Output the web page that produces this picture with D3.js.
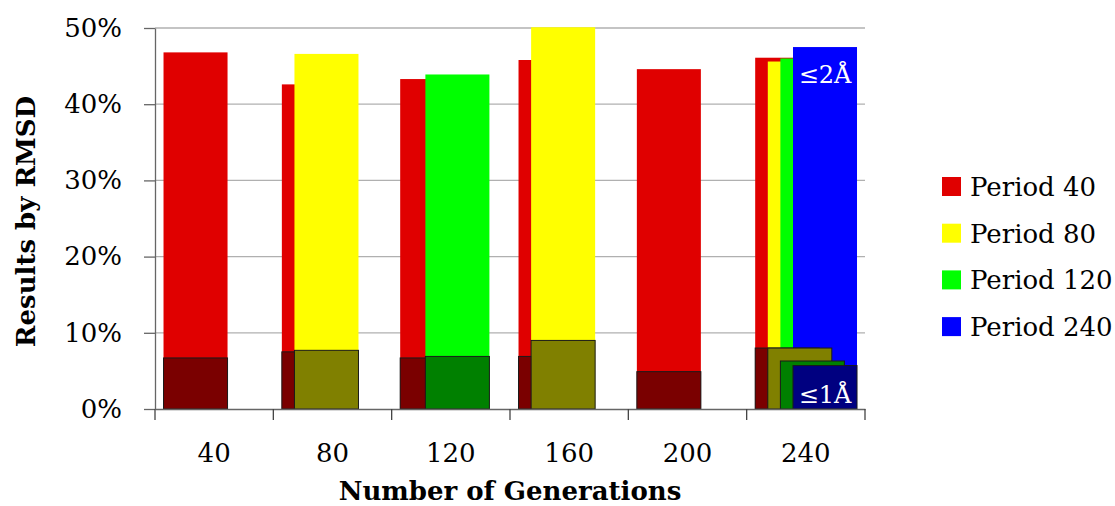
<!DOCTYPE html>
<html>
<head>
<meta charset="utf-8">
<script src="https://cdn.jsdelivr.net/npm/d3@7"></script>
<style>
  body { margin: 0; background: #fff; }
  svg { display: block; }
  text { font-family: "DejaVu Serif", serif; fill: #000; }
</style>
</head>
<body>
<svg id="chart" width="1115" height="506"></svg>
<script>
// Number of generations per run
const categories = ["40", "80", "120", "160", "200", "240"];
const seriesNames = ["Period 40", "Period 80", "Period 120", "Period 240"];

// Share of results with RMSD <= 2 Å (%); null where the period does not divide the generation count
const p40Within2  = [46.8, 42.6, 43.3, 45.8, 44.6, 46.1];
const p80Within2  = [null, 46.6, null, 50.1, null, 45.6];
const p120Within2 = [null, null, 43.9, null, null, 46.0];
const p240Within2 = [null, null, null, null, null, 47.5];

// Share of results with RMSD <= 1 Å (%)
const p40Within1  = [6.7, 7.5, 6.7, 6.9, 4.9, 8.0];
const p80Within1  = [null, 7.7, null, 9.0, null, 8.0];
const p120Within1 = [null, null, 6.9, null, null, 6.3];
const p240Within1 = [null, null, null, null, null, 5.7];

const yTickValues = [0, 10, 20, 30, 40, 50];

const brightColors = ["#e00000", "#ffff00", "#00ff00", "#0000ff"];
const darkColors   = ["#7a0000", "#808000", "#008000", "#000080"];

const within2 = [p40Within2, p80Within2, p120Within2, p240Within2];
const within1 = [p40Within1, p80Within1, p120Within1, p240Within1];

const svg = d3.select("#chart");

const plot = { left: 155, right: 865, top: 28, bottom: 409 };

const x = d3.scaleBand().domain(categories).range([plot.left, plot.right]).padding(0);
const y = d3.scaleLinear().domain([0, 50]).range([plot.bottom, plot.top]);
// horizontal position of each series inside a category band (fraction of the band)
const slot = d3.scaleLinear().domain([0, seriesNames.length - 1]).range([0.072, 0.3915]);
const barFrac = 0.541;

// gridlines
svg.append("g")
  .selectAll("line")
  .data(yTickValues.filter(d => d > 0))
  .join("line")
  .attr("x1", plot.left).attr("x2", plot.right)
  .attr("y1", d => y(d)).attr("y2", d => y(d))
  .attr("stroke", "#b0b0b0")
  .attr("stroke-width", 1.3);

// flatten into bar records
function records(layer) {
  const out = [];
  layer.forEach((vals, si) => {
    vals.forEach((v, ci) => {
      if (v !== null) out.push({ series: si, cat: categories[ci], value: v });
    });
  });
  return out;
}

const bw = x.bandwidth();

// <= 2 Å bars
svg.append("g")
  .selectAll("rect")
  .data(records(within2))
  .join("rect")
  .attr("x", d => x(d.cat) + slot(d.series) * bw)
  .attr("width", barFrac * bw)
  .attr("y", d => y(d.value))
  .attr("height", d => y(0) - y(d.value))
  .attr("fill", d => brightColors[d.series]);

// <= 1 Å bars on top
svg.append("g")
  .selectAll("rect")
  .data(records(within1))
  .join("rect")
  .attr("x", d => x(d.cat) + slot(d.series) * bw)
  .attr("width", barFrac * bw)
  .attr("y", d => y(d.value))
  .attr("height", d => y(0) - y(d.value))
  .attr("fill", d => darkColors[d.series])
  .attr("stroke", "#1a1a1a")
  .attr("stroke-width", 1);

// threshold labels on the Period 240 bars
const last = categories.length - 1;
const labelX = x(categories[last]) + (slot(3) + barFrac / 2) * bw;
svg.append("text")
  .attr("x", labelX).attr("y", y(p240Within2[last]) + 36)
  .attr("text-anchor", "middle")
  .style("fill", "#fff")
  .style("font-size", "24px")
  .text("≤2Å");
svg.append("text")
  .attr("x", labelX).attr("y", y(0) - 6)
  .attr("text-anchor", "middle")
  .style("fill", "#fff")
  .style("font-size", "24px")
  .text("≤1Å");

// y axis
const yAxis = svg.append("g")
  .attr("transform", `translate(${plot.left},0)`)
  .call(d3.axisLeft(y).tickValues(yTickValues).tickFormat(d => d + "%")
    .tickSize(11).tickSizeOuter(0).tickPadding(22));
yAxis.select(".domain").attr("stroke", "#666").attr("stroke-width", 1.3);
yAxis.selectAll(".tick line").attr("stroke", "#666").attr("stroke-width", 1.3);
yAxis.selectAll(".tick text").style("font-size", "26px").style("font-family", "DejaVu Serif, serif");

// x axis: labels centred on bands, ticks on band boundaries
const xAxis = svg.append("g")
  .attr("transform", `translate(0,${plot.bottom})`)
  .call(d3.axisBottom(x).tickSize(0).tickSizeOuter(0).tickPadding(35));
xAxis.select(".domain").attr("stroke", "#666").attr("stroke-width", 1.3);
xAxis.selectAll(".tick text").style("font-size", "26px").style("font-family", "DejaVu Serif, serif");

const boundaries = categories.map(c => x(c)).concat([x.range()[1]]);
xAxis.append("g")
  .selectAll("line")
  .data(boundaries)
  .join("line")
  .attr("x1", d => d).attr("x2", d => d)
  .attr("y1", 0).attr("y2", 11)
  .attr("stroke", "#444")
  .attr("stroke-width", 1.3);

// axis titles
svg.append("text")
  .attr("x", (plot.left + plot.right) / 2).attr("y", 500)
  .attr("text-anchor", "middle")
  .style("font-weight", "bold")
  .style("font-size", "26px")
  .text("Number of Generations");

svg.append("text")
  .attr("transform", `translate(35,${(plot.top + plot.bottom) / 2 + 3}) rotate(-90)`)
  .attr("text-anchor", "middle")
  .style("font-weight", "bold")
  .style("font-size", "26px")
  .text("Results by RMSD");

// legend
const legend = svg.append("g").attr("transform", "translate(942,177)");
const item = legend.selectAll("g")
  .data(seriesNames)
  .join("g")
  .attr("transform", (d, i) => `translate(0,${i * 46.7})`);
item.append("rect")
  .attr("width", 19).attr("height", 19)
  .attr("fill", (d, i) => brightColors[i]);
item.append("text")
  .attr("x", 28).attr("y", 9.5)
  .attr("dy", "0.36em")
  .style("font-size", "26px")
  .text(d => d);
</script>
</body>
</html>
